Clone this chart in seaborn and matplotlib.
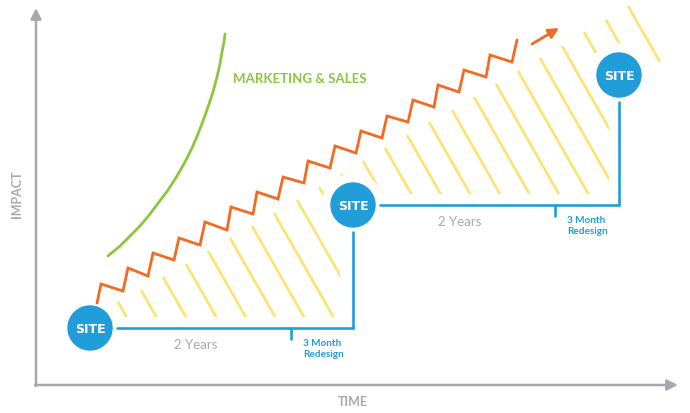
import numpy as np
import pandas as pd
import matplotlib
matplotlib.use("Agg")
import matplotlib.pyplot as plt
import seaborn as sns
from matplotlib.patches import Circle, Polygon

# the diagram is laid out in picture units (x to the right, y downwards)
site_x = [90, 353, 619]
site_y = [329, 206, 76]

# orange growth zigzag: start, tooth tops, tooth bottoms, end
zig_start = (97, 304)
zig_end = (517, 41)
tooth_top_x = [101, 128, 153, 179, 205, 231, 257, 283, 308, 335, 361, 387, 413, 438, 464, 490]
tooth_top_y = [285, 269, 254, 239, 223, 208, 193, 178, 162, 147, 132, 117, 101, 86, 71, 56]
tooth_bot_x = [123, 148, 174, 200, 227, 253, 278, 304, 330, 356, 382, 408, 434, 459, 486, 512]
tooth_bot_y = [292, 277, 261, 246, 231, 215, 200, 184, 169, 154, 139, 123, 108, 93, 78, 63]
arrow_from = (532, 45)
arrow_to = (559, 29)

# green marketing & sales curve
green_x = [108, 120, 130, 140, 150, 159, 168, 177, 185, 192, 198, 203, 208, 213, 217, 220, 222, 224, 225]
green_y = [257, 247, 237, 227, 215, 203, 191, 177, 163, 149, 135, 122, 108, 93, 78, 65, 53, 43, 35]

# yellow hatch: upper ends of the stripes
hatch_x = [118, 141, 163, 186, 208, 230, 252, 274, 297, 319, 341, 363,
           385, 407, 429, 452, 474, 496, 518, 540, 562, 584, 606, 628]
hatch_y = [303, 291, 278, 265, 252, 239, 227, 214, 201, 188, 175, 162,
           149, 136, 123, 111, 98, 85, 72, 59, 47, 33, 21, 7]

# redesign periods
period_label = ["2 Years", "2 Years"]
redesign_label = ["3 Month\nRedesign", "3 Month\nRedesign"]
redesign_tick_x = [291, 555]

BLUE = "#219ed9"
ORANGE = "#f26b21"
GREEN = "#8cc63f"
YELLOW = "#fde272"
GRAY = "#a7a9ac"

sns.set_theme(style="white")
plt.rcParams["font.family"] = ["Lato", "DejaVu Sans"]

fig = plt.figure(figsize=(6.9, 4.14), dpi=100)
ax = fig.add_axes([0, 0, 1, 1])
ax.set_xlim(0, 690)
ax.set_ylim(414, 0)
ax.axis("off")

# axes arrows
ax.annotate("", xy=(36, 9), xytext=(36, 387),
            arrowprops=dict(arrowstyle="-|>", color=GRAY, lw=1.8,
                            mutation_scale=16, shrinkA=0, shrinkB=0))
ax.annotate("", xy=(678, 386), xytext=(35, 386),
            arrowprops=dict(arrowstyle="-|>", color=GRAY, lw=1.8,
                            mutation_scale=16, shrinkA=0, shrinkB=0))
ax.text(17, 194, "IMPACT", rotation=90, ha="center", va="center",
        color=GRAY, fontsize=9, fontweight="bold")
ax.text(353, 402, "TIME", ha="center", va="center",
        color=GRAY, fontsize=9, fontweight="bold")

# yellow stripes, clipped to the staircase under the zigzag
clip = Polygon([(0, 318), (340, 318), (340, 195), (609, 195), (609, 63),
                (690, 63), (690, -10), (0, -10)], closed=True,
               transform=ax.transData, visible=False)
ax.add_patch(clip)
slope = 1.75
for hx, hy in zip(hatch_x, hatch_y):
    ln, = ax.plot([hx, hx + 200], [hy, hy + 200 * slope], color=YELLOW,
                  lw=1.9, solid_capstyle="butt", zorder=1)
    ln.set_clip_path(clip)

# keep a white margin round each site
for sx, sy in zip(site_x, site_y):
    ax.add_patch(Circle((sx, sy), 31, color="white", zorder=2))

# green curve
green = pd.DataFrame({"x": green_x, "y": green_y})
sns.lineplot(data=green, x="x", y="y", sort=False, ax=ax, color=GREEN,
             lw=2.0, zorder=3)
ax.text(300, 79, "MARKETING & SALES", ha="center", va="center",
        color=GREEN, fontsize=9.5, fontweight="bold")

# orange zigzag
zx = [zig_start[0]]
zy = [zig_start[1]]
for tx, ty, bx, by in zip(tooth_top_x, tooth_top_y, tooth_bot_x, tooth_bot_y):
    zx += [tx, bx]
    zy += [ty, by]
zx.append(zig_end[0])
zy.append(zig_end[1])
zig = pd.DataFrame({"x": zx, "y": zy})
sns.lineplot(data=zig, x="x", y="y", sort=False, ax=ax, color=ORANGE,
             lw=2.0, zorder=4)
ax.lines[-1].set_solid_joinstyle("miter")
ax.annotate("", xy=arrow_to, xytext=arrow_from,
            arrowprops=dict(arrowstyle="-|>", color=ORANGE, lw=2.0,
                            mutation_scale=15, shrinkA=0, shrinkB=0),
            zorder=4)

# blue timeline between sites
for i in range(2):
    x0, y0 = site_x[i], site_y[i]
    x1, y1 = site_x[i + 1], site_y[i + 1]
    ax.plot([x0 + 27, x1, x1], [y0, y0, y1 + 27], color=BLUE, lw=1.9,
            solid_joinstyle="miter", zorder=5)
    ax.plot([redesign_tick_x[i]] * 2, [y0, y0 + 11], color=BLUE, lw=1.9,
            zorder=5)
    ax.text((x0 + x1) / 2 - 26, y0 + 16, period_label[i], ha="center",
            va="center", color=GRAY, fontsize=9.5)
    ax.text(redesign_tick_x[i] + 12, y0 + 20, redesign_label[i], ha="left",
            va="center", color=BLUE, fontsize=7.2, fontweight="bold",
            linespacing=1.15)

# site markers
for sx, sy in zip(site_x, site_y):
    ax.add_patch(Circle((sx, sy), 22, color=BLUE, zorder=6))
    ax.text(sx, sy + 0.5, "SITE", ha="center", va="center", color="white",
            fontsize=9, fontweight="bold", family="DejaVu Sans", zorder=7)

if ax.get_legend() is not None:
    ax.get_legend().remove()

fig.savefig("out.png", dpi=100)
